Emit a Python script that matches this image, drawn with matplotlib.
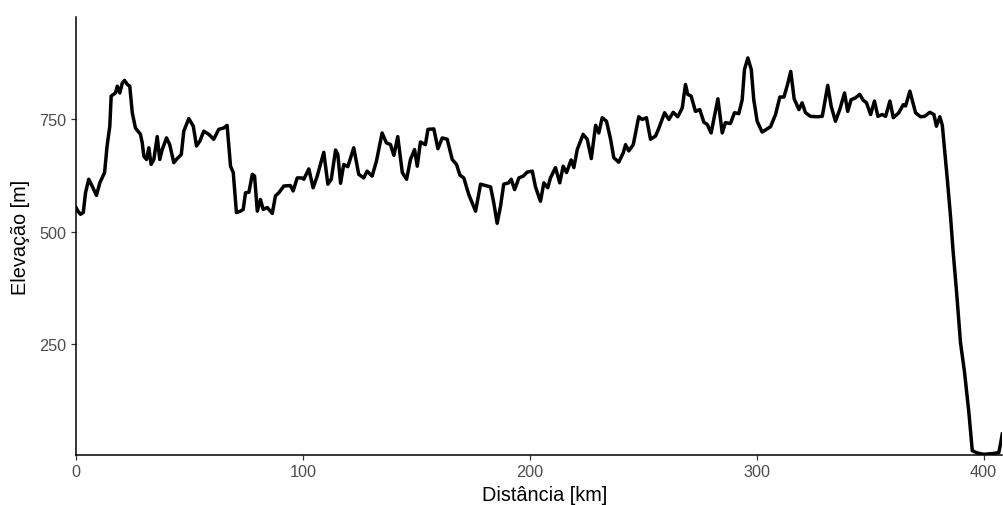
import matplotlib
matplotlib.use("Agg")
import matplotlib.pyplot as plt

plt.rcParams["font.family"] = ["Liberation Sans", "DejaVu Sans"]

# elevation profile (km, m)
distance_km = [
    0, 1, 2, 3.2, 4.2, 5.6, 7.1, 9.0, 10.5, 11.5, 12.6, 13.7, 14.9, 15.5, 17.4,
    18.2, 19.3, 20.4, 21.4, 22.6, 23.7, 24.8, 26.2, 28.4, 29.2, 29.9, 31.1, 32.1,
    33.1, 34.3, 35.8, 36.9, 38.0, 39.9, 41.3, 43.1, 44.6, 46.4, 47.5, 49.7, 51.7,
    53.1, 54.6, 56.3, 58.5, 60.7, 62.9, 65.1, 66.6, 68.1, 69.3, 70.7, 72.5, 73.7,
    74.7, 76.2, 77.7, 78.7, 79.9, 81.3, 82.5, 84.3, 86.5, 87.9, 89.4, 91.6, 94.5,
    95.7, 97.5, 99.5, 100.4, 102.6, 104.5, 106.3, 109.2, 111.0, 112.5, 114.4,
    115.4, 116.6, 118.0, 119.8, 122.4, 124.6, 126.8, 128.3, 130.5, 132.4, 134.9,
    136.8, 138.6, 140.1, 141.8, 143.8, 145.7, 147.4, 149.2, 150.4, 151.8, 154.0,
    155.1, 157.7, 159.5, 161.4, 163.6, 165.8, 167.7, 169.2, 170.9, 173.1, 176.1,
    178.3, 180.5, 182.7, 184.1, 185.6, 187.1, 188.5, 190.7, 191.8, 193.3, 195.2,
    197.1, 198.9, 201.1, 202.5, 204.7, 206.2, 207.9, 209.1, 211.3, 213.2, 214.7,
    216.2, 218.2, 219.4, 220.9, 223.5, 225.3, 227.1, 229.0, 230.4, 231.9, 233.8,
    235.6, 237.0, 239.2, 241.2, 242.2, 243.6, 245.6, 248.0, 249.5, 251.4, 253.2,
    255.4, 256.9, 259.4, 261.3, 263.2, 265.2, 267.2, 268.6, 269.6, 271.1, 273.0,
    274.9, 276.7, 278.2, 279.9, 281.1, 282.9, 284.8, 286.2, 288.4, 290.2, 292.1,
    293.6, 294.6, 296.1, 297.6, 298.7, 300.2, 302.4, 306.1, 308.3, 310.2, 312.0,
    313.7, 315.0, 316.5, 318.6, 320.0, 321.5, 323.7, 326.7, 328.9, 331.3, 332.8,
    334.7, 336.6, 338.7, 340.1, 341.6, 343.5, 345.4, 346.9, 348.4, 350.2, 351.9,
    353.4, 355.3, 356.8, 358.7, 360.2, 362.6, 364.6, 365.6, 367.5, 370.0, 372.2,
    374.0, 376.3, 378.1, 379.2, 380.7, 381.8, 382.8, 384.0, 385.4, 386.6, 388.1,
    389.8, 391.6, 393.5, 395.0, 397.2, 400.1, 404.5, 406.7, 407.5, 408.2,
]
elevation_m = [
    554, 545, 539, 543, 587, 617, 602, 581, 609, 620, 632, 691, 735, 802, 809,
    824, 809, 831, 837, 828, 824, 765, 731, 717, 698, 668, 661, 687,
    650, 661, 712, 661, 683, 709, 694, 654, 663, 672, 724, 752, 735,
    691, 702, 724, 717, 706, 728, 731, 737, 646, 632, 543, 546, 550,
    587, 588, 628, 624, 546, 572, 550, 554, 541, 580, 587, 602, 603,
    591, 620, 620, 617, 640, 598, 624, 677, 606, 617, 682,
    672, 608, 650, 645, 687, 628, 620, 635, 624, 657, 720,
    698, 694, 670, 712, 632, 617, 661, 683, 646, 700, 694,
    728, 729, 685, 709, 706, 661, 650, 626, 620, 583, 546,
    606, 603, 600, 565, 519, 557, 606, 609, 617, 594, 620,
    624, 633, 635, 600, 568, 609, 598, 620, 643, 609, 646,
    632, 660, 643, 683, 717, 706, 663, 737, 720, 754, 746,
    706, 665, 655, 676, 694, 680, 694, 756, 750, 754, 706,
    713, 731, 765, 750, 766, 756, 776, 828, 806, 802, 768,
    772, 744, 739, 720, 750, 796, 720, 743, 741, 765, 763,
    794, 861, 887, 861, 794, 746, 722, 734, 761, 800, 800,
    830, 857, 796, 772, 787, 765, 757, 756, 757, 826, 780,
    746, 772, 809, 768, 794, 798, 806, 793, 787, 761, 791,
    757, 761, 757, 791, 754, 765, 783, 780, 813, 765, 756,
    757, 766, 761, 735, 756, 737, 683, 617, 535, 454, 365,
    254, 187, 98, 13, 8, 5, 7, 9, 30, 50,
]

x_ticks = [0, 100, 200, 300, 400]
y_ticks = [250, 500, 750]

fig = plt.figure(figsize=(10.04, 5.06), dpi=100)
ax = fig.add_axes([76 / 1004, 50 / 506, 926 / 1004, 438 / 506])

ax.plot(distance_km, elevation_m, color="black", lw=2.5, solid_joinstyle="round")

ax.set_xlim(0, 408.1)
ax.set_ylim(3.5, 978)
ax.set_xticks(x_ticks)
ax.set_yticks(y_ticks)

for side in ("top", "right"):
    ax.spines[side].set_visible(False)
for side in ("left", "bottom"):
    ax.spines[side].set_linewidth(1.1)
    ax.spines[side].set_color("black")

ax.tick_params(colors="#333333", labelcolor="#4D4D4D", labelsize=11.7,
               length=3.7, width=0.9, pad=3)
ax.set_xlabel("Distância [km]", fontsize=14.3)
ax.set_ylabel("Elevação [m]", fontsize=14.3)
# ggplot centres the x title a little right of the axes centre
ax.xaxis.set_label_coords(0.506, -30 / 438)
ax.yaxis.set_label_coords(-46 / 926, 0.5)

fig.savefig("out.png", dpi=100)
